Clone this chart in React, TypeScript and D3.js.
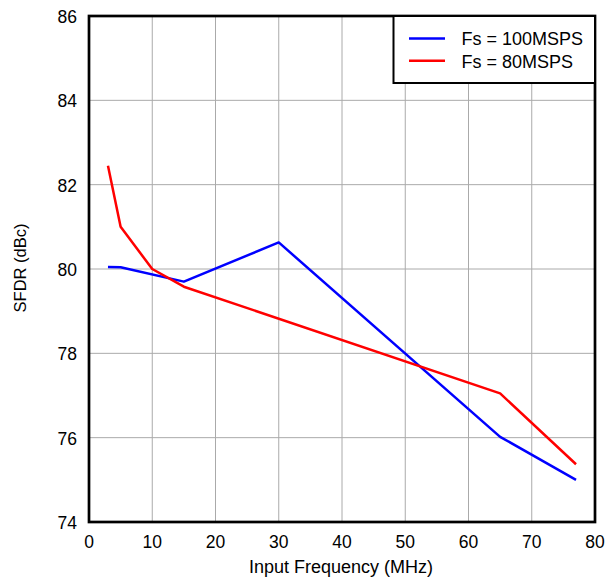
import React from "react";
import * as d3 from "d3";

const freq100 = [3, 5, 15, 30, 65, 77];
const sfdr100 = [80.05, 80.04, 79.7, 80.63, 76.02, 75.0];
const freq80 = [3, 5, 10, 15, 65, 77];
const sfdr80 = [82.45, 81.0, 80.0, 79.58, 77.05, 75.37];
const xTicks = [0, 10, 20, 30, 40, 50, 60, 70, 80];
const yTicks = [74, 76, 78, 80, 82, 84, 86];
const seriesNames = ["Fs = 100MSPS", "Fs = 80MSPS"];
const seriesColors = ["#0000ff", "#ff0000"];

const W = 606, H = 578;
const L = 89, R = 595, T = 16, B = 522;

export default function App() {
  const x = d3.scaleLinear().domain([0, 80]).range([L, R]);
  const y = d3.scaleLinear().domain([74, 86]).range([B, T]);
  const line = d3.line<[number, number]>().x(d => x(d[0])).y(d => y(d[1]));
  const series = [
    freq100.map((f, i) => [f, sfdr100[i]] as [number, number]),
    freq80.map((f, i) => [f, sfdr80[i]] as [number, number]),
  ];
  const font = "Liberation Sans, Arial, sans-serif";
  return (
    <svg width={W} height={H} style={{ position: "absolute", left: 0, top: 0 }} fontFamily={font}>
      <rect x={0} y={0} width={W} height={H} fill="#fff" />
      {xTicks.slice(1, -1).map(t => (
        <line key={"gx" + t} x1={x(t)} x2={x(t)} y1={T} y2={B} stroke="#aaa" strokeWidth={1} />
      ))}
      {yTicks.slice(1, -1).map(t => (
        <line key={"gy" + t} x1={L} x2={R} y1={y(t)} y2={y(t)} stroke="#aaa" strokeWidth={1} />
      ))}
      {series.map((s, i) => (
        <path key={"s" + i} d={line(s) || ""} fill="none" stroke={seriesColors[i]} strokeWidth={2.5} strokeLinejoin="round" />
      ))}
      <rect x={L} y={T} width={R - L} height={B - T} fill="none" stroke="#000" strokeWidth={2.7} />
      {xTicks.map(t => (
        <text key={"xt" + t} x={x(t)} y={547.5} textAnchor="middle" fontSize={17.5} fill="#000">{t}</text>
      ))}
      {yTicks.map(t => (
        <text key={"yt" + t} x={77} y={y(t) + 7} textAnchor="end" fontSize={17.5} fill="#000">{t}</text>
      ))}
      <text x={341} y={572.5} textAnchor="middle" fontSize={18} fill="#000">Input Frequency (MHz)</text>
      <text transform={`translate(26,268) rotate(-90)`} textAnchor="middle" fontSize={16.5} fill="#000">SFDR (dBc)</text>
      <rect x={393.5} y={T} width={R - 393.5} height={67} fill="#fff" stroke="#000" strokeWidth={2} />
      {seriesNames.map((n, i) => (
        <g key={"lg" + i}>
          <line x1={409} x2={445} y1={38.5 + i * 22.3} y2={38.5 + i * 22.3} stroke={seriesColors[i]} strokeWidth={2.5} />
          <text x={461.5} y={45 + i * 23.3} fontSize={18} fill="#000">{n}</text>
        </g>
      ))}
    </svg>
  );
}
